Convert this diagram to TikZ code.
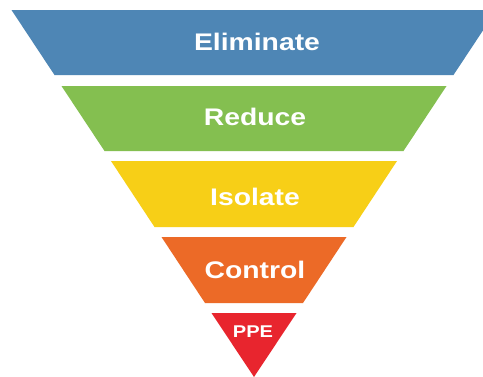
\documentclass[tikz,border=0pt]{standalone}
\usepackage{fontspec}
\setmainfont[FakeStretch=1.18]{Liberation Sans}
\definecolor{elimblue}{HTML}{4E86B5}
\definecolor{redugreen}{HTML}{84BF50}
\definecolor{isoyellow}{HTML}{F7CF17}
\definecolor{ctrlorange}{HTML}{EC6A27}
\definecolor{ppered}{HTML}{E8252E}
\begin{document}
\begin{tikzpicture}[x=1pt,y=-1pt,every node/.style={text=white,anchor=base,font=\bfseries\fontsize{24}{28}\selectfont}]
        \clip (0,0) rectangle (483,376);
        \fill[white] (0,0) rectangle (483,376);

        \fill[elimblue] (11.5,10) -- (496.5,10) -- (453.5,75) -- (54.5,75) -- cycle;
        \fill[redugreen] (61.5,86) -- (446.5,86) -- (403.5,151) -- (104.5,151) -- cycle;
        \fill[isoyellow] (111,161) -- (397,161) -- (353.5,227) -- (154.5,227) -- cycle;
        \fill[ctrlorange] (161.5,237) -- (346.5,237) -- (303,303) -- (205,303) -- cycle;
        \fill[ppered] (211.5,313) -- (296.5,313) -- (254,377) -- cycle;

        \node (elim) at (257,50) {Eliminate};
        \node (redu) at (255,125) {Reduce};
        \node (iso) at (255,205) {Isolate};
        \node (ctrl) at (255,278) {Control};
        \node[font=\bfseries\fontsize{17}{20}\selectfont] (ppe) at (253,337) {PPE};

    \end{tikzpicture}
\end{document}
